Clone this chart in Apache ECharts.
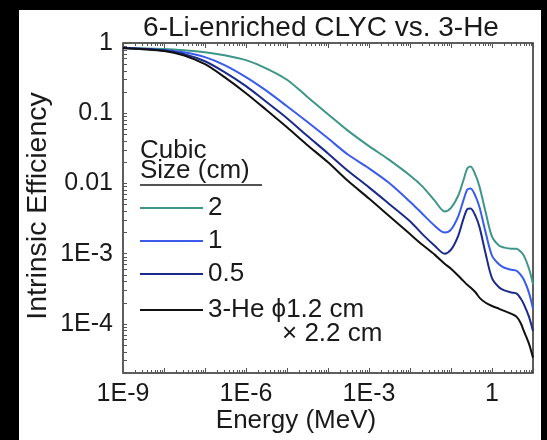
<!DOCTYPE html>
<html>
<head>
<meta charset="utf-8">
<script src="https://cdn.jsdelivr.net/npm/echarts@6/dist/echarts.min.js"></script>
<style>html,body{margin:0;padding:0;background:#000;}#c{width:547px;height:440px;}</style>
</head>
<body>
<div id="c"></div>
<script>
// Energy grid (MeV)
const energy = [1e-9, 1e-8, 3e-8, 1e-7, 3e-7, 1e-6, 3e-6, 1e-5, 3e-5, 1e-4, 3e-4, 1e-3, 3e-3, 1e-2, 2e-2, 4e-2, 7e-2, 0.1, 0.15, 0.2, 0.25, 0.3, 0.4, 0.5, 0.7, 1, 1.5, 2, 3, 4, 5, 6, 8, 10];
// Intrinsic efficiency, cubic CLYC 2 cm
const clyc2cm = [0.85, 0.82, 0.79, 0.74, 0.67, 0.57, 0.44, 0.30, 0.175, 0.097, 0.057, 0.034, 0.022, 0.013, 0.0091, 0.0057, 0.0040, 0.0045, 0.0067, 0.011, 0.0164, 0.0175, 0.013, 0.0088, 0.0039, 0.00175, 0.0013, 0.00122, 0.00118, 0.00118, 0.00107, 0.00094, 0.00061, 0.00037];
// cubic CLYC 1 cm
const clyc1cm = [0.85, 0.79, 0.74, 0.63, 0.485, 0.327, 0.213, 0.126, 0.077, 0.044, 0.026, 0.0164, 0.0103, 0.0055, 0.0037, 0.0025, 0.0020, 0.0022, 0.0034, 0.0057, 0.0082, 0.0085, 0.0065, 0.0045, 0.0020, 0.00094, 0.00070, 0.00063, 0.00059, 0.00057, 0.00050, 0.000425, 0.000277, 0.000164];
// cubic CLYC 0.5 cm
const clyc05cm = [0.85, 0.79, 0.70, 0.55, 0.385, 0.243, 0.148, 0.085, 0.0485, 0.0268, 0.0153, 0.0088, 0.0052, 0.0029, 0.0019, 0.0013, 0.0010, 0.00114, 0.0018, 0.0031, 0.0043, 0.0044, 0.0034, 0.00235, 0.0010, 0.00045, 0.00033, 0.00030, 0.00028, 0.00027, 0.00023, 0.00019, 0.000126, 0.000079];
// 3-He tube phi 1.2 cm x 2.2 cm
const he3 = [0.85, 0.77, 0.67, 0.50, 0.327, 0.193, 0.114, 0.063, 0.036, 0.020, 0.011, 0.0061, 0.0035, 0.0019, 0.00134, 0.00097, 0.00072, 0.00061, 0.000485, 0.00041, 0.00036, 0.00033, 0.00028, 0.000235, 0.00020, 0.00018, 0.000164, 0.000153, 0.000139, 0.000126, 0.000103, 0.000079, 0.000052, 0.000033];

const xTickLabels = [1e-9, 1e-6, 1e-3, 1];
const yTickLabels = [1e-4, 1e-3, 0.01, 0.1, 1];
const xMin = 1e-9, xMax = 10, yMin = 2e-5, yMax = 1;

const xMajor = [], xMinor = [], yTicks = [];
for (let d = -9; d <= 1; d++) xMajor.push(Math.pow(10, d));
for (let d = -9; d <= 0; d++) for (let m = 2; m <= 9; m++) xMinor.push(m * Math.pow(10, d));
for (let d = -5; d <= -1; d++) for (let m = 2; m <= 10; m++) yTicks.push(m * Math.pow(10, d));

const FONT = 'Liberation Sans';
const TXT = '#1a1a1a';
const TICK = '#555555';
const C2 = '#3e9688', C1 = '#3b5bef', C05 = '#1c2a8c', CHE = '#111111';

function fmt(v) {
  const e = Math.round(Math.log10(v));
  if (e === 0) return '1';
  if (e === -1) return '0.1';
  if (e === -2) return '0.01';
  return '1E' + e;
}

function xAx(pos, ticks, len, labels) {
  return {
    type: 'log', logBase: 10, position: pos, min: xMin, max: xMax,
    axisLine: { show: false },
    axisTick: { show: true, inside: true, length: len, customValues: ticks, lineStyle: { color: TICK, width: 1 } },
    axisLabel: labels ? { show: true, customValues: labels, formatter: fmt, fontFamily: FONT, fontSize: 25, color: TXT, margin: 9 } : { show: false },
    splitLine: { show: false }, minorTick: { show: false }
  };
}

function pairs(vals) { return energy.map((e, i) => [e, vals[i]]); }
function ser(name, vals, color) {
  return {
    name, type: 'line', data: pairs(vals), xAxisIndex: 0, yAxisIndex: 0,
    showSymbol: false, symbol: 'none', smooth: 0.3,
    lineStyle: { color, width: 2 }, itemStyle: { color }, z: 5
  };
}

const chart = echarts.init(document.getElementById('c'), null, { renderer: 'canvas' });
const legendX0 = 140, legendX1 = 203, labX = 208;
const textStyle = (s, x, y, align, size) => ({
  type: 'text', x, y,
  style: { text: s, fontFamily: FONT, fontSize: size || 26, fill: TXT, textAlign: align || 'left', textVerticalAlign: 'middle' }, z: 10
});
const seg = (y, color) => ({ type: 'line', shape: { x1: legendX0, y1: y, x2: legendX1, y2: y }, style: { stroke: color, lineWidth: 2 }, z: 10 });

chart.setOption({
  backgroundColor: '#000',
  animation: false,
  grid: { left: 123, top: 43, width: 410, height: 330, show: true, borderColor: '#2a2a2a', borderWidth: 1.5, backgroundColor: 'transparent', containLabel: false, outerBoundsMode: 'none' },
  xAxis: [
    xAx('bottom', xMajor, 5, xTickLabels),
    xAx('top', xMajor, 5, null),
    xAx('bottom', xMinor, 3, null),
    xAx('top', xMinor, 3, null)
  ],
  yAxis: [{
    type: 'log', logBase: 10, position: 'left', min: yMin, max: yMax,
    axisLine: { show: false },
    axisTick: { show: true, inside: true, length: 4, customValues: yTicks, lineStyle: { color: TICK, width: 1 } },
    axisLabel: { show: true, customValues: yTickLabels, formatter: fmt, fontFamily: FONT, fontSize: 25, color: TXT, margin: 10 },
    splitLine: { show: false }, minorTick: { show: false }
  }],
  graphic: [
    { type: 'rect', shape: { x: 19, y: 10, width: 522, height: 430 }, style: { fill: '#fff' }, z: -10, silent: true },
    textStyle('6-Li-enriched CLYC vs. 3-He', 321, 28, 'center', 28),
    { type: 'text', x: 38, y: 206, rotation: Math.PI / 2,
      style: { text: 'Intrinsic Efficiency', fontFamily: FONT, fontSize: 28.5, fill: TXT, textAlign: 'center', textVerticalAlign: 'middle' }, z: 10 },
    textStyle('Energy (MeV)', 296, 421, 'center', 26),
    textStyle('Cubic', 140, 151),
    textStyle('Size (cm)', 140, 171),
    { type: 'line', shape: { x1: 140, y1: 185, x2: 262, y2: 185 }, style: { stroke: TXT, lineWidth: 1.5 }, z: 10 },
    seg(208, C2), textStyle('2', labX, 208),
    seg(241, C1), textStyle('1', labX, 241),
    seg(274, C05), textStyle('0.5', labX, 274),
    seg(310, CHE), textStyle('3-He \u03d51.2 cm', labX, 310),
    textStyle('\u00d7 2.2 cm', 282, 334)
  ],
  series: [
    ser('2', clyc2cm, C2),
    ser('1', clyc1cm, C1),
    ser('0.5', clyc05cm, C05),
    ser('3-He', he3, CHE)
  ]
});
</script>
</body>
</html>
